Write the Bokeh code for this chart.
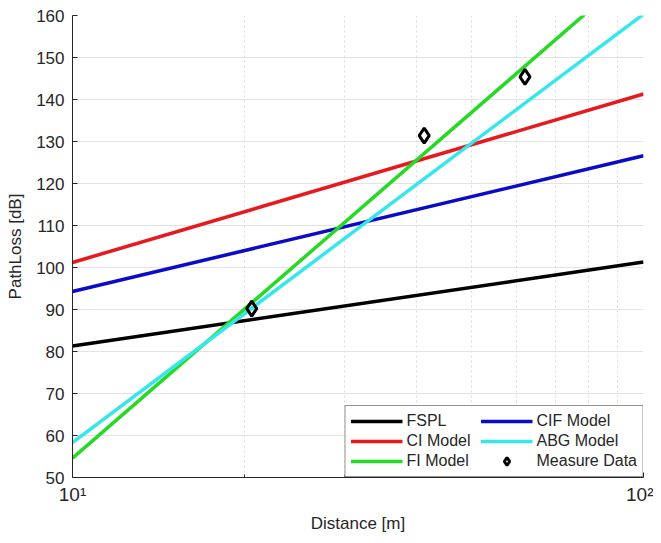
from bokeh.plotting import figure
from bokeh.models import FixedTicker, Legend, LegendItem, Range1d
from bokeh.embed import file_html
from bokeh.resources import INLINE

# data
distance = [10, 100]
fspl = [81.3, 101.3]
ci_model = [101.2, 141.3]
cif_model = [94.3, 126.6]
fi_model = [54.6, 172.4]
abg_model = [58.3, 160.3]
meas_dist = [20.6, 41.3, 62.0]
meas_pl = [90.2, 131.4, 145.4]

x_ticks = [10, 100]
x_tick_labels = {10: "10\u00b9", 100: "10\u00b2"}
x_minor = [20, 30, 40, 50, 60, 70, 80, 90]
y_ticks = [50, 60, 70, 80, 90, 100, 110, 120, 130, 140, 150, 160]

FONT = "Liberation Sans"
TXT = "#262626"

p = figure(width=653, height=535, x_axis_type="log",
           x_range=Range1d(10, 100), y_range=Range1d(50, 160),
           output_backend="svg", toolbar_location=None,
           min_border_left=72, min_border_right=10,
           min_border_top=15, min_border_bottom=58)
p.frame_width = 571
p.frame_height = 462
p.outline_line_color = None
p.background_fill_color = "white"
p.border_fill_color = "white"

p.xaxis.ticker = FixedTicker(ticks=x_ticks, minor_ticks=x_minor)
p.yaxis.ticker = FixedTicker(ticks=y_ticks)
p.xaxis.major_label_overrides = x_tick_labels

for ax in (p.xaxis, p.yaxis):
    ax.axis_line_color = TXT
    ax.axis_line_width = 1
    ax.major_tick_line_color = TXT
    ax.major_tick_in = 5
    ax.major_tick_out = 0
    ax.major_label_text_font = FONT
    ax.major_label_text_font_size = "17px"
    ax.major_label_text_color = TXT
    ax.axis_label_text_font = FONT
    ax.axis_label_text_font_size = "17px"
    ax.axis_label_text_font_style = "normal"
    ax.axis_label_text_color = TXT
p.xaxis.minor_tick_line_color = TXT
p.xaxis.minor_tick_in = 3
p.xaxis.minor_tick_out = 0
p.yaxis.minor_tick_line_color = None
p.xaxis.axis_label = "Distance [m]"
p.yaxis.axis_label = "PathLoss [dB]"
p.xaxis.major_label_text_font_size = "19px"
p.xaxis.major_label_standoff = 6
p.yaxis.major_label_standoff = 8
p.yaxis.axis_label_standoff = 8
p.xaxis.axis_label_standoff = 6

p.ygrid.grid_line_color = "#e3e3e3"
p.xgrid.grid_line_color = "#dadada"
p.xgrid.grid_line_dash = "2 3"
p.xgrid.minor_grid_line_color = "#dadada"
p.xgrid.minor_grid_line_dash = "2 3"

lw = 3.5
r_fspl = p.line(distance, fspl, line_color="#000000", line_width=lw)
r_ci = p.line(distance, ci_model, line_color="#e8191e", line_width=lw)
r_cif = p.line(distance, cif_model, line_color="#0a0ac8", line_width=lw)
r_fi = p.line(distance, fi_model, line_color="#25d925", line_width=lw)
r_abg = p.line(distance, abg_model, line_color="#36e6ea", line_width=lw)
r_meas = p.scatter(meas_dist, meas_pl, marker="diamond", size=15,
                   line_color="#000000", line_width=3, fill_color=None)

legend = Legend(items=[
    LegendItem(label="FSPL", renderers=[r_fspl]),
    LegendItem(label="CI Model", renderers=[r_ci]),
    LegendItem(label="FI Model", renderers=[r_fi]),
    LegendItem(label="CIF Model", renderers=[r_cif]),
    LegendItem(label="ABG Model", renderers=[r_abg]),
    LegendItem(label="Measure Data", renderers=[r_meas]),
], location="bottom_right", ncols=2, orientation="vertical")
legend.margin = 0
legend.padding = 5
legend.spacing = 0
legend.glyph_width = 52
legend.glyph_height = 20
legend.label_height = 20
legend.label_width = 74
legend.label_standoff = 4
legend.label_text_font = FONT
legend.label_text_font_size = "16px"
legend.label_text_color = TXT
legend.border_line_color = TXT
legend.border_line_width = 1
legend.background_fill_color = "white"
legend.background_fill_alpha = 1
p.add_layout(legend, "center")

open("out.html", "w").write(file_html(p, INLINE))
